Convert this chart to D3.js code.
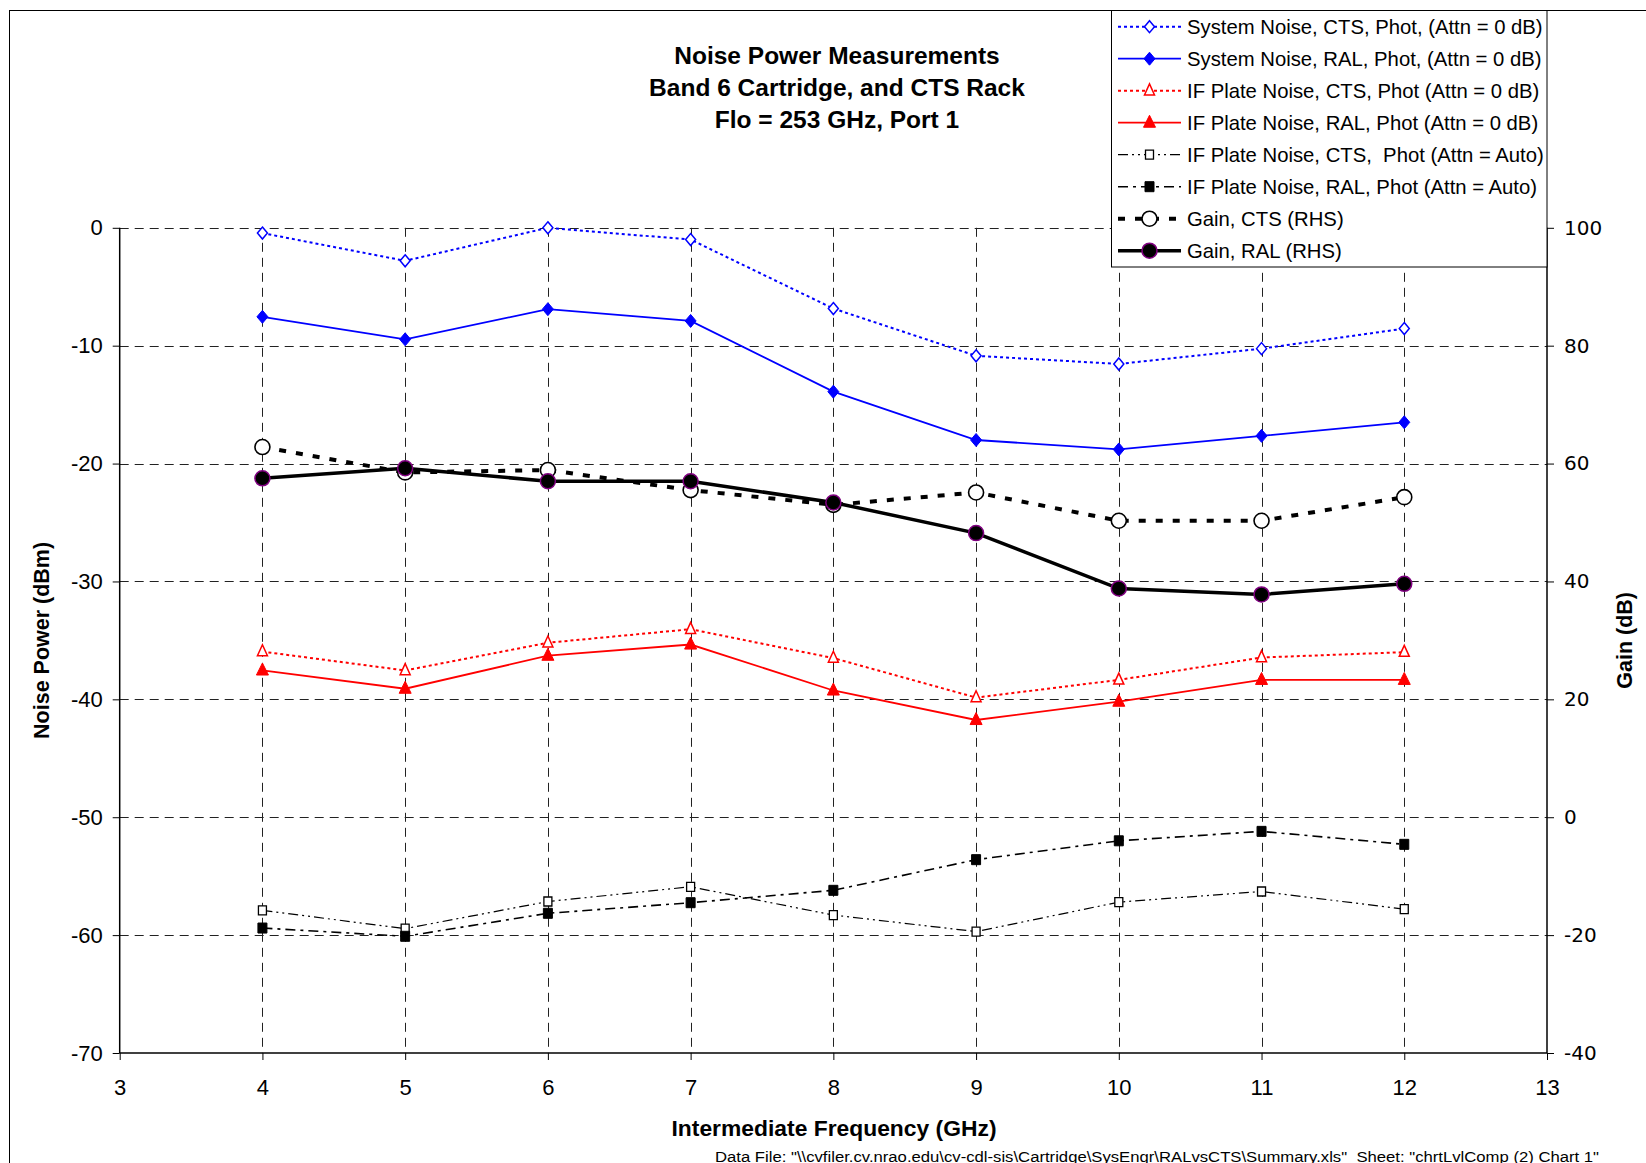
<!DOCTYPE html>
<html><head><meta charset="utf-8">
<script src="https://cdn.jsdelivr.net/npm/d3@7"></script>
<style>html,body{margin:0;padding:0;background:#fff;}svg{display:block;}</style>
</head><body>
<script>
// ---- data ----
const freqs = [4, 5, 6, 7, 8, 9, 10, 11, 12];
const sysNoiseCTS = [-0.45, -2.8, 0, -1.0, -6.85, -10.86, -11.55, -10.25, -8.55];
const sysNoiseRAL = [-7.55, -9.46, -6.9, -7.9, -13.9, -18.0, -18.8, -17.65, -16.5];
const ifPlateCTS0 = [-35.95, -37.55, -35.2, -34.05, -36.5, -39.85, -38.35, -36.45, -36.0];
const ifPlateRAL0 = [-37.55, -39.1, -36.3, -35.35, -39.25, -41.75, -40.2, -38.35, -38.35];
const ifPlateCTSAuto = [-57.9, -59.45, -57.15, -55.9, -58.3, -59.7, -57.2, -56.3, -57.8];
const ifPlateRALAuto = [-59.4, -60.1, -58.15, -57.25, -56.2, -53.6, -52.0, -51.2, -52.3];
const gainCTS = [62.8, 58.5, 58.9, 55.5, 53.0, 55.1, 50.3, 50.3, 54.3];
const gainRAL = [57.5, 59.2, 57.0, 57.0, 53.4, 48.2, 38.8, 37.8, 39.6];
const xTicks = [3, 4, 5, 6, 7, 8, 9, 10, 11, 12, 13];
const yLeftTicks = [0, -10, -20, -30, -40, -50, -60, -70];
const yRightTicks = [100, 80, 60, 40, 20, 0, -20, -40];
const seriesNames = [
  "System Noise, CTS, Phot, (Attn = 0 dB)",
  "System Noise, RAL, Phot, (Attn = 0 dB)",
  "IF Plate Noise, CTS, Phot (Attn = 0 dB)",
  "IF Plate Noise, RAL, Phot (Attn = 0 dB)",
  "IF Plate Noise, CTS,  Phot (Attn = Auto)",
  "IF Plate Noise, RAL, Phot (Attn = Auto)",
  "Gain, CTS (RHS)",
  "Gain, RAL (RHS)"
];
const titleLines = ["Noise Power Measurements", "Band 6 Cartridge, and CTS Rack", "Flo = 253 GHz, Port 1"];

// ---- layout ----
const W = 1646, H = 1163;
const L = 119.7, R = 1547, T = 227.8, B = 1053;
const svg = d3.select("body").append("svg").attr("width", W).attr("height", H);
const x = d3.scaleLinear().domain([3, 13]).range([L, R]);
const yL = d3.scaleLinear().domain([-70, 0]).range([B, T]);
const yR = d3.scaleLinear().domain([-40, 100]).range([B, T]);
const FONT = "'Liberation Sans', Arial, sans-serif";
const fmt = d => String(d);

// outer frame
svg.append("rect").attr("x", 9.5).attr("y", 10.5).attr("width", 1700).attr("height", 1300)
  .attr("fill", "none").attr("stroke", "#000").attr("stroke-width", 1);

// gridlines
const grid = svg.append("g").attr("stroke", "#222").attr("stroke-width", 1).attr("stroke-dasharray", "9,6");
grid.selectAll(".h").data(yLeftTicks.filter(d => d > -70)).join("line")
  .attr("x1", L).attr("x2", R).attr("y1", d => Math.round(yL(d)) + 0.5).attr("y2", d => Math.round(yL(d)) + 0.5);
grid.selectAll(".v").data(xTicks.filter(d => d > 3 && d < 13)).join("line")
  .attr("y1", T).attr("y2", B).attr("x1", d => Math.round(x(d)) + 0.5).attr("x2", d => Math.round(x(d)) + 0.5);

// axes
const axL = svg.append("g").attr("transform", `translate(${L},0)`)
  .call(d3.axisLeft(yL).tickValues(yLeftTicks).tickSize(7).tickPadding(10).tickFormat(fmt));
const axR = svg.append("g").attr("transform", `translate(${R},0)`)
  .call(d3.axisRight(yR).tickValues(yRightTicks).tickSize(7).tickPadding(10).tickFormat(fmt));
const axB = svg.append("g").attr("transform", `translate(0,${B})`)
  .call(d3.axisBottom(x).tickValues(xTicks).tickSize(7).tickPadding(19).tickFormat(fmt));
[axL, axR, axB].forEach(a => {
  a.select(".domain").attr("stroke", "#000").attr("stroke-width", 1.5);
  a.selectAll(".tick line").attr("stroke", "#000").attr("stroke-width", 1);
  a.selectAll("text").attr("fill", "#000").attr("font-family", FONT).attr("font-size", 22);
});
axR.selectAll("text").attr("font-family", "'DejaVu Sans', Verdana, sans-serif").attr("font-size", 20);
axL.select(".domain").attr("d", `M0,${B}V${T}`);
axR.select(".domain").attr("d", `M0,${B}V${T}`);
axB.select(".domain").attr("d", `M${L},0H${R}`);

// custom marker types
const diamond = (w, h) => ({ draw(c) { c.moveTo(0, -h); c.lineTo(w, 0); c.lineTo(0, h); c.lineTo(-w, 0); c.closePath(); } });
const triangle = (w, h) => ({ draw(c) { c.moveTo(0, -h * 0.62); c.lineTo(w, h * 0.38); c.lineTo(-w, h * 0.38); c.closePath(); } });
const square = (w, h) => ({ draw(c) { c.rect(-w, -h, 2 * w, 2 * h); } });
const circle = (r) => ({ draw(c) { c.moveTo(r, 0); c.arc(0, 0, r, 0, 2 * Math.PI); } });

const series = [
  { name: seriesNames[0], vals: sysNoiseCTS, y: yL, color: "#0000ff", w: 2, dash: "3,3", mk: diamond(5, 6), mfill: "#fff", mstroke: "#0000ff", msw: 1.5 },
  { name: seriesNames[1], vals: sysNoiseRAL, y: yL, color: "#0000ff", w: 1.8, dash: null, mk: diamond(5.5, 6.5), mfill: "#0000ff", mstroke: "#0000ff", msw: 1 },
  { name: seriesNames[2], vals: ifPlateCTS0, y: yL, color: "#ff0000", w: 2, dash: "3,3", mk: triangle(5, 11), mfill: "#fff", mstroke: "#ff0000", msw: 1.5 },
  { name: seriesNames[3], vals: ifPlateRAL0, y: yL, color: "#ff0000", w: 1.8, dash: null, mk: triangle(6, 12), mfill: "#ff0000", mstroke: "#ff0000", msw: 1 },
  { name: seriesNames[4], vals: ifPlateCTSAuto, y: yL, color: "#000", w: 1.2, dash: "10,4,2,4,2,4", mk: square(4, 4.5), mfill: "#fff", mstroke: "#000", msw: 1.3 },
  { name: seriesNames[5], vals: ifPlateRALAuto, y: yL, color: "#000", w: 1.6, dash: "10,5,3,5", mk: square(4.5, 5), mfill: "#000", mstroke: "#000", msw: 1 },
  { name: seriesNames[6], vals: gainCTS, y: yR, color: "#000", w: 4, dash: "7,10", mk: circle(7.5), mfill: "#fff", mstroke: "#000", msw: 1.6 },
  { name: seriesNames[7], vals: gainRAL, y: yR, color: "#000", w: 3.5, dash: null, mk: circle(7.5), mfill: "#000", mstroke: "#800080", msw: 1.5 }
];

const plot = svg.append("g");
series.forEach(s => {
  const pts = freqs.map((f, i) => [f, s.vals[i]]);
  const line = d3.line().x(d => x(d[0])).y(d => s.y(d[1]));
  plot.append("path").attr("d", line(pts)).attr("fill", "none").attr("stroke", s.color)
    .attr("stroke-width", s.w).attr("stroke-dasharray", s.dash);
  plot.selectAll(null).data(pts).join("path")
    .attr("transform", d => `translate(${x(d[0])},${s.y(d[1])})`)
    .attr("d", d3.symbol().type(s.mk)())
    .attr("fill", s.mfill).attr("stroke", s.mstroke).attr("stroke-width", s.msw);
});

// title
svg.append("g").selectAll("text").data(titleLines).join("text")
  .attr("x", 837).attr("y", (d, i) => 64 + i * 32).attr("text-anchor", "middle")
  .attr("font-family", FONT).attr("font-weight", "bold").attr("font-size", 24.5).text(d => d);

// axis titles
svg.append("text").attr("transform", `translate(49,${(T + B) / 2}) rotate(-90)`).attr("text-anchor", "middle")
  .attr("font-family", FONT).attr("font-weight", "bold").attr("font-size", 21.5).text("Noise Power (dBm)");
svg.append("text").attr("transform", `translate(1632,${(T + B) / 2}) rotate(-90)`).attr("text-anchor", "middle")
  .attr("font-family", FONT).attr("font-weight", "bold").attr("font-size", 21.5).text("Gain (dB)");
svg.append("text").attr("x", 834).attr("y", 1136).attr("text-anchor", "middle")
  .attr("font-family", FONT).attr("font-weight", "bold").attr("font-size", 22)
  .attr("textLength", 325).attr("lengthAdjust", "spacingAndGlyphs").text("Intermediate Frequency (GHz)");
svg.append("text").attr("x", 715).attr("y", 1161.5)
  .attr("font-family", FONT).attr("font-size", 15.5)
  .attr("textLength", 884).attr("lengthAdjust", "spacingAndGlyphs").attr("xml:space", "preserve")
  .text('Data File: "\\\\cvfiler.cv.nrao.edu\\cv-cdl-sis\\Cartridge\\SysEngr\\RALvsCTS\\Summary.xls"  Sheet: "chrtLvlComp (2) Chart 1"');

// legend
const lg = svg.append("g");
lg.append("rect").attr("x", 1111.5).attr("y", 10.5).attr("width", R - 1111.5).attr("height", 256.5)
  .attr("fill", "#fff").attr("stroke", "#000").attr("stroke-width", 1);
series.forEach((s, i) => {
  const yy = 26.7 + i * 32;
  lg.append("line").attr("x1", 1118).attr("x2", 1181).attr("y1", yy).attr("y2", yy)
    .attr("stroke", s.color).attr("stroke-width", s.w).attr("stroke-dasharray", s.dash);
  lg.append("path").attr("transform", `translate(1149.5,${yy})`).attr("d", d3.symbol().type(s.mk)())
    .attr("fill", s.mfill).attr("stroke", s.mstroke).attr("stroke-width", s.msw);
  lg.append("text").attr("x", 1187).attr("y", yy).attr("dy", "0.36em").attr("xml:space", "preserve")
    .attr("font-family", FONT).attr("font-size", 20.3).text(s.name);
});
</script>
</body></html>
